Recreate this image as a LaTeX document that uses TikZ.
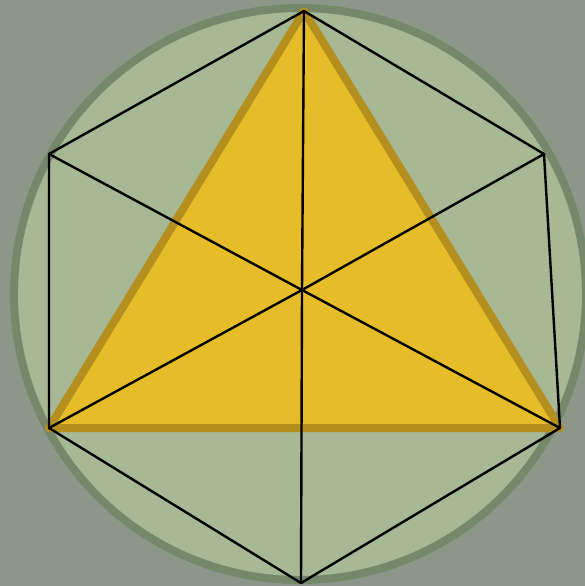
\documentclass[tikz,border=0pt]{standalone}
\definecolor{bgcol}{RGB}{140,151,138}
\definecolor{circfill}{RGB}{167,184,148}
\definecolor{circline}{RGB}{118,136,106}
\definecolor{trifill}{RGB}{231,188,41}
\definecolor{triline}{RGB}{181,143,30}
\tikzset{
  edge/.style={draw=black, line width=2.4pt, line join=round},
  disc/.style={fill=circfill, draw=circline, line width=8pt},
  tri/.style={fill=trifill, draw=triline, line width=8pt, line join=round}
}
\begin{document}
\begin{tikzpicture}[x=1pt,y=-1pt]
\useasboundingbox (0,0) rectangle (585,586);
\fill[bgcol] (0,0) rectangle (585,586);
\coordinate (c) at (300,294);
\draw[disc] (c) circle[radius=286];
\coordinate (T) at (304,11);
\coordinate (UL) at (49,154);
\coordinate (UR) at (544,154);
\coordinate (LL) at (49,428);
\coordinate (LR) at (560,428);
\coordinate (B) at (301,583);
\coordinate (O) at (302,290);
\draw[tri] (T) -- (LL) -- (LR) -- cycle;
\draw[edge] (T) -- (UR) -- (LR) -- (B) -- (LL) -- (UL) -- cycle;
\draw[edge] (T) -- (O) -- (B);
\draw[edge] (UL) -- (O) -- (LR);
\draw[edge] (UR) -- (O) -- (LL);
\end{tikzpicture}
\end{document}
